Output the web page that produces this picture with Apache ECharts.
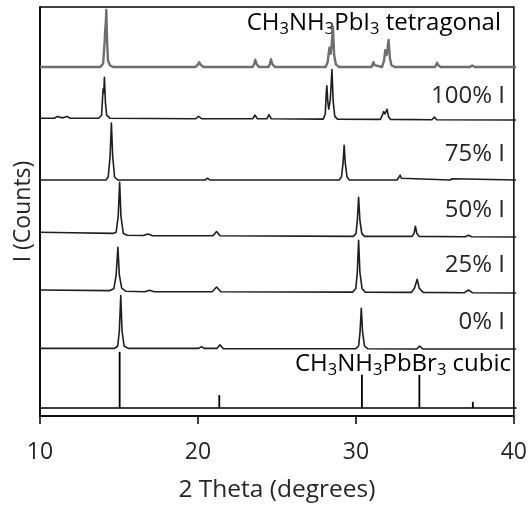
<!DOCTYPE html>
<html>
<head>
<meta charset="utf-8">
<script src="https://cdn.jsdelivr.net/npm/echarts@6/dist/echarts.min.js"></script>
<style>html,body{margin:0;padding:0;background:#fff}#c{width:530px;height:508px}</style>
</head>
<body>
<div id="c"></div>
<script>
// ---- data (2 theta in degrees, intensity in arbitrary counts) ----
const xTicks = [10, 20, 30, 40];
const sampleNames = ['CH3NH3PbI3 tetragonal', '100% I', '75% I', '50% I', '25% I', '0% I'];

const tetragonal = [[10,0],[13.8,0],[13.98,6],[14.07,40],[14.11,62],[14.15,75],[14.18,95],[14.22,50],[14.28,12],[14.4,3],[14.6,0],
  [19.8,0],[19.95,4],[20.03,8],[20.12,4],[20.3,0],[23.4,0],[23.5,5],[23.57,12],[23.65,5],[23.8,0],
  [24.4,0],[24.49,5],[24.56,13],[24.64,5],[24.8,0],[28.0,0],[28.13,8],[28.24,32],[28.32,22],[28.38,35],[28.46,67],[28.54,20],[28.65,4],[28.85,0],
  [30.9,0],[30.97,3],[31.02,8],[31.08,3],[31.2,0],[31.55,0],[31.68,10],[31.76,28],[31.84,20],[31.9,30],[31.97,45],[32.05,15],[32.15,3],[32.35,0],
  [34.9,0],[34.98,3],[35.03,7],[35.1,3],[35.25,0],[37.1,0],[37.24,2.5],[37.4,0],[40,0]];

const iodide100 = [[10,3],[10.9,3],[11.1,6],[11.3,4],[11.5,4],[11.7,6],[11.9,3],[13.7,3],[13.88,8],[13.95,40],[13.98,52],[14.02,45],[14.06,71],[14.12,30],[14.2,8],[14.4,3],
  [19.8,2],[20.0,6],[20.2,2],[23.4,2],[23.55,8],[23.7,2],[24.3,2],[24.43,9],[24.58,2],
  [27.85,1.5],[27.98,10],[28.04,45],[28.08,57],[28.14,30],[28.2,18],[28.3,35],[28.4,84],[28.48,30],[28.58,6],[28.75,1.5],
  [31.45,1],[31.58,8],[31.66,14],[31.74,10],[31.8,13],[31.87,18],[31.96,6],[32.1,1],[34.7,0.5],[34.86,5],[35.0,0.5],[40,0]];

const iodide75 = [[10,0],[14.15,0],[14.3,5],[14.42,40],[14.5,95],[14.58,40],[14.7,5],[14.9,0],
  [20.4,0],[20.56,3],[20.7,0],[28.85,0],[29.0,5],[29.1,28],[29.17,58],[29.24,28],[29.35,5],[29.5,0],
  [32.5,0],[32.62,3],[32.7,8],[32.78,3],[32.9,0],[35.85,0],[35.98,2],[36.1,0],[40,0]];

const iodide50 = [[10,8],[12,7],[14.6,6],[14.8,8],[14.93,35],[15.02,91],[15.1,35],[15.25,6],[15.5,3],[16.5,2.5],[16.8,5],[17.1,2],
  [20.9,2],[21.13,9],[21.35,2],[29.75,1],[29.92,6],[30.0,28],[30.08,66],[30.16,28],[30.28,6],[30.45,1],
  [33.45,1],[33.58,6],[33.66,18],[33.75,6],[33.9,1],[36.8,0.5],[37.0,3],[37.2,0.5],[40,0]];

const iodide25 = [[10,5],[14.4,4],[14.65,7],[14.8,30],[14.91,76],[15.0,30],[15.15,8],[15.4,3],[16.6,2],[16.9,4.5],[17.2,2],
  [20.85,2],[21.13,10],[21.4,2],[29.7,1.5],[29.9,7],[30.0,35],[30.08,88],[30.16,35],[30.3,7],[30.5,1.5],
  [33.4,1],[33.6,8],[33.77,23],[33.9,8],[34.15,1],[36.75,0.5],[37.0,5],[37.25,0.5],[40,0]];

const iodide0 = [[10,1],[14.7,1],[14.9,5],[15.0,30],[15.09,89],[15.17,30],[15.3,5],[15.55,1],[20.0,1],[20.18,4],[20.35,1],
  [21.15,1],[21.34,7],[21.55,0.5],[29.9,0.5],[30.08,5],[30.17,28],[30.25,68],[30.33,28],[30.45,5],[30.65,0.5],
  [33.75,0],[33.93,5],[34.12,0],[40,0]];

// CH3NH3PbBr3 cubic reference pattern (position, relative intensity)
const cubicPositions = [15.02, 21.3, 30.29, 33.91, 37.28];
const cubicIntensity = [100, 23, 59, 59, 11];

// ---- layout / style ----
const FONT = 'Open Sans';
const L = 40, W = 476;
const traceData = [tetragonal, iodide100, iodide75, iodide50, iodide25, iodide0];
const traceBottoms = [67, 120, 180, 237, 293, 349];
const traceColors = ['#6e6e6e', '#1e1e1e', '#1e1e1e', '#1e1e1e', '#1e1e1e', '#1e1e1e'];
const traceWidths = [2.4, 1.6, 1.6, 1.6, 1.6, 1.6];
const TH = 60;

const grids = [
  {left: L, top: 7, width: W, height: 413, show: true, borderColor: '#000', borderWidth: 1.5, backgroundColor: 'transparent'},
  {left: L, top: 340, width: W, height: 68}
];
const xAxes = [
  {gridIndex: 0, type: 'value', min: 10, max: 40, interval: 10,
   axisLine: {show: true, lineStyle: {color: '#000', width: 1.5}},
   axisTick: {show: true, inside: false, length: 8, lineStyle: {color: '#000', width: 1.5}},
   axisLabel: {show: true, color: '#262626', fontFamily: FONT, fontSize: 23, margin: 25,
     formatter: v => xTicks.includes(v) ? String(v) : ''},
   splitLine: {show: false},
   name: '2 Theta (degrees)', nameLocation: 'middle', nameGap: 62,
   nameTextStyle: {color: '#262626', fontFamily: FONT, fontSize: 24.5}},
  {gridIndex: 1, type: 'value', min: 10, max: 40, interval: 10,
   axisLine: {show: true, onZero: false, lineStyle: {color: '#000', width: 1.5}},
   axisTick: {show: false}, axisLabel: {show: false}, splitLine: {show: false}}
];
const yAxes = [
  {gridIndex: 0, type: 'value', min: 0, max: 1,
   axisLine: {show: true, lineStyle: {color: '#000', width: 1.5}},
   axisTick: {show: false}, axisLabel: {show: false}, splitLine: {show: false},
   name: 'I (Counts)', nameLocation: 'middle', nameGap: 5,
   nameTextStyle: {color: '#262626', fontFamily: FONT, fontSize: 23}},
  {gridIndex: 1, type: 'value', min: 0, max: 121, show: false, splitLine: {show: false}}
];
const series = [
  {type: 'bar', xAxisIndex: 1, yAxisIndex: 1, barWidth: 1.8,
   itemStyle: {color: '#000'}, data: cubicPositions.map((p, i) => [p, cubicIntensity[i]]), silent: true}
];
traceData.forEach((d, i) => {
  grids.push({left: L, top: traceBottoms[i] - TH, width: W, height: TH});
  xAxes.push({gridIndex: i + 2, type: 'value', min: 10, max: 40, show: false, splitLine: {show: false}});
  yAxes.push({gridIndex: i + 2, type: 'value', min: 0, max: 100, show: false, splitLine: {show: false}});
  series.push({type: 'line', name: sampleNames[i], xAxisIndex: i + 2, yAxisIndex: i + 2, data: d,
    showSymbol: false, symbol: 'none', clip: false, smooth: false,
    lineStyle: {color: traceColors[i], width: traceWidths[i], join: 'round'}});
});

const pctLabelY = [96, 154, 210, 265, 322];
const graphics = sampleNames.slice(1).map((t, i) => ({
  type: 'text', x: 505, y: pctLabelY[i],
  style: {text: t, align: 'right', verticalAlign: 'middle', fill: '#262626', font: '24px "' + FONT + '"'}
}));
const richSub = {
  n: {fontFamily: FONT, fontSize: 24, lineHeight: 30, color: '#262626'},
  s: {fontFamily: FONT, fontSize: 16.5, lineHeight: 14, verticalAlign: 'bottom', color: '#262626'}
};
graphics.push({type: 'text', x: 501, y: 23,
  style: {text: '{n|CH}{s|3}{n|NH}{s|3}{n|PbI}{s|3}{n| tetragonal}', rich: richSub, align: 'right', verticalAlign: 'middle'}});
graphics.push({type: 'text', x: 511, y: 364,
  style: {text: '{n|CH}{s|3}{n|NH}{s|3}{n|PbBr}{s|3}{n| cubic}', rich: richSub, align: 'right', verticalAlign: 'middle'}});

const chart = echarts.init(document.getElementById('c'), null, {renderer: 'canvas'});
chart.setOption({
  animation: false,
  backgroundColor: '#fff',
  grid: grids, xAxis: xAxes, yAxis: yAxes, series: series, graphic: graphics
});
</script>
</body>
</html>
